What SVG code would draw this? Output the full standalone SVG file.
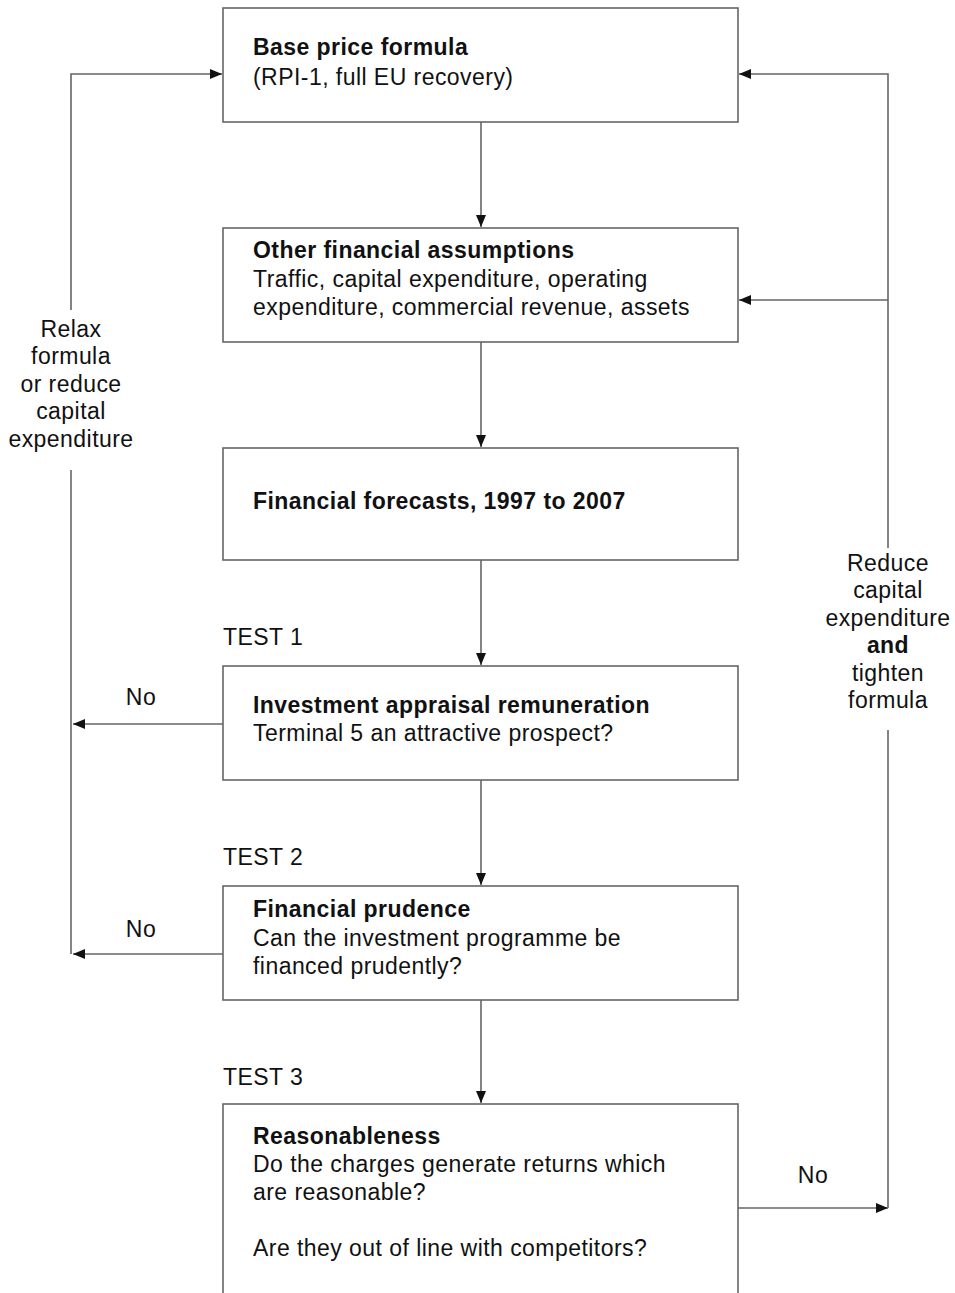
<svg xmlns="http://www.w3.org/2000/svg" width="955" height="1293" viewBox="0 0 955 1293">
<defs>
<marker id="ah" markerWidth="13" markerHeight="11" refX="12" refY="5.5" orient="auto" markerUnits="userSpaceOnUse">
<path d="M0,0.5 L12,5.5 L0,10.5 Z" fill="#111"/>
</marker>
<style>
.box{fill:#fff;stroke:#666;stroke-width:1.6}
.ln{fill:none;stroke:#666;stroke-width:1.6}
.t{font-family:"Liberation Sans",Arial,sans-serif;font-size:23px;letter-spacing:0.45px;fill:#111}
.b{font-weight:bold}
.c{text-anchor:middle}
</style>
</defs>
<rect width="955" height="1293" fill="#fff"/>
<g id="connectors">
<line class="ln" x1="481" y1="122" x2="481" y2="227" marker-end="url(#ah)"/>
<line class="ln" x1="481" y1="342" x2="481" y2="447" marker-end="url(#ah)"/>
<line class="ln" x1="481" y1="560" x2="481" y2="665" marker-end="url(#ah)"/>
<line class="ln" x1="481" y1="780" x2="481" y2="885" marker-end="url(#ah)"/>
<line class="ln" x1="481" y1="1000" x2="481" y2="1103" marker-end="url(#ah)"/>
<polyline class="ln" points="71,310 71,74 222,74" marker-end="url(#ah)"/>
<line class="ln" x1="71" y1="470" x2="71" y2="954"/>
<line class="ln" x1="223" y1="724" x2="73" y2="724" marker-end="url(#ah)"/>
<line class="ln" x1="223" y1="954" x2="73" y2="954" marker-end="url(#ah)"/>
<line class="ln" x1="738" y1="1208" x2="888" y2="1208" marker-end="url(#ah)"/>
<line class="ln" x1="888" y1="1208" x2="888" y2="730"/>
<polyline class="ln" points="888,548 888,74 739,74" marker-end="url(#ah)"/>
<line class="ln" x1="888" y1="300" x2="739" y2="300" marker-end="url(#ah)"/>
<text class="t c" x="71"><tspan x="71" y="337">Relax</tspan><tspan x="71" y="364">formula</tspan><tspan x="71" y="392">or reduce</tspan><tspan x="71" y="419">capital</tspan><tspan x="71" y="447">expenditure</tspan></text>
<text class="t c" x="888"><tspan x="888" y="571">Reduce</tspan><tspan x="888" y="598">capital</tspan><tspan x="888" y="626">expenditure</tspan><tspan x="888" y="653" class="b">and</tspan><tspan x="888" y="681">tighten</tspan><tspan x="888" y="708">formula</tspan></text>
<text class="t c" x="141" y="705">No</text>
<text class="t c" x="141" y="937">No</text>
<text class="t c" x="813" y="1183">No</text>
</g>
<g id="base-price">
<rect class="box" x="223" y="8" width="515" height="114"/>
<text class="t b" x="253" y="55">Base price formula</text>
<text class="t" x="253" y="85">(RPI-1, full EU recovery)</text>
</g>
<g id="other-assumptions">
<rect class="box" x="223" y="228" width="515" height="114"/>
<text class="t b" x="253" y="258">Other financial assumptions</text>
<text class="t" x="253" y="287">Traffic, capital expenditure, operating</text>
<text class="t" x="253" y="315">expenditure, commercial revenue, assets</text>
</g>
<g id="forecasts">
<rect class="box" x="223" y="448" width="515" height="112"/>
<text class="t b" x="253" y="509">Financial forecasts, 1997 to 2007</text>
</g>
<g id="test1">
<text class="t" x="223" y="645">TEST 1</text>
<rect class="box" x="223" y="666" width="515" height="114"/>
<text class="t b" x="253" y="713">Investment appraisal remuneration</text>
<text class="t" x="253" y="741">Terminal 5 an attractive prospect?</text>
</g>
<g id="test2">
<text class="t" x="223" y="865">TEST 2</text>
<rect class="box" x="223" y="886" width="515" height="114"/>
<text class="t b" x="253" y="917">Financial prudence</text>
<text class="t" x="253" y="946">Can the investment programme be</text>
<text class="t" x="253" y="974">financed prudently?</text>
</g>
<g id="test3">
<text class="t" x="223" y="1085">TEST 3</text>
<rect class="box" x="223" y="1104" width="515" height="200"/>
<text class="t b" x="253" y="1144">Reasonableness</text>
<text class="t" x="253" y="1172">Do the charges generate returns which</text>
<text class="t" x="253" y="1200">are reasonable?</text>
<text class="t" x="253" y="1256">Are they out of line with competitors?</text>
</g>
</svg>
